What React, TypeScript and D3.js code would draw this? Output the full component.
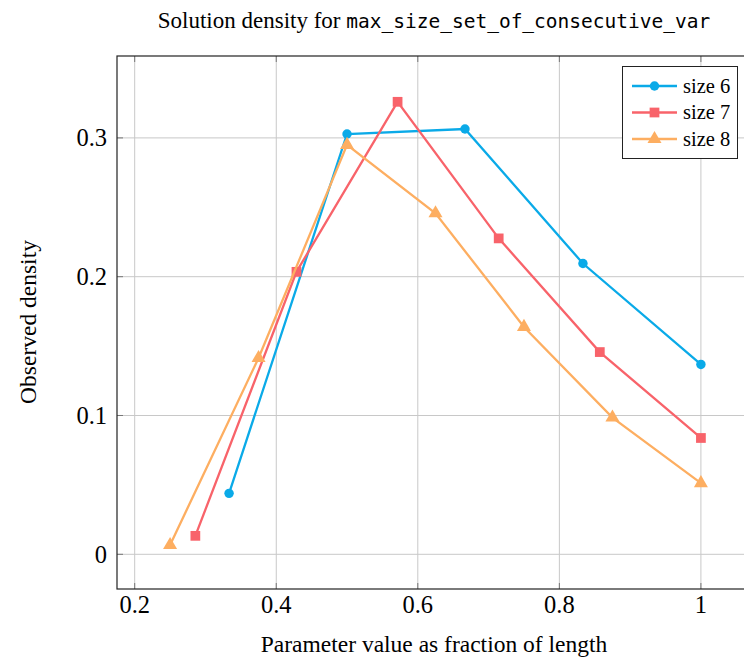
import React, { useEffect, useRef } from "react";
import * as d3 from "d3";

const X6 = [2 / 6, 3 / 6, 4 / 6, 5 / 6, 1];
const Y6 = [0.0439, 0.3028, 0.3064, 0.2095, 0.1368];
const X7 = [2 / 7, 3 / 7, 4 / 7, 5 / 7, 6 / 7, 1];
const Y7 = [0.0133, 0.2035, 0.326, 0.2276, 0.1457, 0.0838];
const X8 = [2 / 8, 3 / 8, 4 / 8, 5 / 8, 6 / 8, 7 / 8, 1];
const Y8 = [0.0067, 0.1414, 0.295, 0.2457, 0.1638, 0.0985, 0.0513];

const SERIES_NAMES = ["size 6", "size 7", "size 8"];
const X_TICKS = [0.2, 0.4, 0.6, 0.8, 1];
const Y_TICKS = [0, 0.1, 0.2, 0.3];

const W = 744;
const H = 662;
const MARGIN = { LEFT: 117, TOP: 56, RIGHT: 754, BOTTOM: 589 };
const COLORS = ["#0aaae8", "#f8636a", "#fdae61"];
const SERIF = "'Liberation Serif', 'Times New Roman', serif";

export default function App() {
  const ref = useRef<SVGSVGElement>(null);

  useEffect(() => {
    const svg = d3.select(ref.current);
    svg.selectAll("*").remove();

    const x = d3.scaleLinear().domain([0.175, 1.075]).range([MARGIN.LEFT, MARGIN.RIGHT]);
    const y = d3.scaleLinear().domain([-0.025, 0.359]).range([MARGIN.BOTTOM, MARGIN.TOP]);

    const series = [
      { name: SERIES_NAMES[0], pts: X6.map((v, i) => [v, Y6[i]]), shape: d3.symbolCircle, size: 70 },
      { name: SERIES_NAMES[1], pts: X7.map((v, i) => [v, Y7[i]]), shape: d3.symbolSquare, size: 95 },
      { name: SERIES_NAMES[2], pts: X8.map((v, i) => [v, Y8[i]]), shape: d3.symbolTriangle, size: 85 },
    ];

    // grid
    const grid = svg.append("g").attr("stroke", "#c8c8c8").attr("stroke-width", 1);
    X_TICKS.forEach((t) => {
      grid.append("line").attr("x1", x(t)).attr("x2", x(t)).attr("y1", MARGIN.TOP).attr("y2", MARGIN.BOTTOM);
    });
    Y_TICKS.forEach((t) => {
      grid.append("line").attr("x1", MARGIN.LEFT).attr("x2", MARGIN.RIGHT).attr("y1", y(t)).attr("y2", y(t));
    });

    // inward ticks
    const ticks = svg.append("g").attr("stroke", "#777").attr("stroke-width", 1);
    X_TICKS.forEach((t) => {
      ticks.append("line").attr("x1", x(t)).attr("x2", x(t)).attr("y1", MARGIN.BOTTOM).attr("y2", MARGIN.BOTTOM - 6);
      ticks.append("line").attr("x1", x(t)).attr("x2", x(t)).attr("y1", MARGIN.TOP).attr("y2", MARGIN.TOP + 6);
    });
    Y_TICKS.forEach((t) => {
      ticks.append("line").attr("x1", MARGIN.LEFT).attr("x2", MARGIN.LEFT + 6).attr("y1", y(t)).attr("y2", y(t));
    });

    // frame
    svg
      .append("rect")
      .attr("x", MARGIN.LEFT)
      .attr("y", MARGIN.TOP)
      .attr("width", MARGIN.RIGHT - MARGIN.LEFT)
      .attr("height", MARGIN.BOTTOM - MARGIN.TOP)
      .attr("fill", "none")
      .attr("stroke", "#222")
      .attr("stroke-width", 1.2);

    // tick labels
    X_TICKS.forEach((t) => {
      svg
        .append("text")
        .attr("x", x(t))
        .attr("y", 613)
        .attr("text-anchor", "middle")
        .attr("font-family", SERIF)
        .attr("font-size", 24.5)
        .text(d3.format("~g")(t));
    });
    Y_TICKS.forEach((t) => {
      svg
        .append("text")
        .attr("x", 107)
        .attr("y", y(t))
        .attr("dy", "0.35em")
        .attr("text-anchor", "end")
        .attr("font-family", SERIF)
        .attr("font-size", 24.5)
        .text(d3.format("~g")(t));
    });

    // lines and markers
    const line = d3
      .line<number[]>()
      .x((d) => x(d[0]))
      .y((d) => y(d[1]));
    series.forEach((s, i) => {
      svg
        .append("path")
        .attr("d", line(s.pts))
        .attr("fill", "none")
        .attr("stroke", COLORS[i])
        .attr("stroke-width", 2.3);
      svg
        .selectAll(null)
        .data(s.pts)
        .enter()
        .append("path")
        .attr("d", d3.symbol().type(s.shape).size(s.size)())
        .attr("transform", (d) => `translate(${x(d[0])},${y(d[1])})`)
        .attr("fill", COLORS[i]);
    });

    // legend
    const lg = svg.append("g");
    lg.append("rect")
      .attr("x", 622.5)
      .attr("y", 66.5)
      .attr("width", 115)
      .attr("height", 92)
      .attr("fill", "white")
      .attr("stroke", "#222")
      .attr("stroke-width", 1);
    series.forEach((s, i) => {
      const ly = 86 + i * 26.5;
      lg.append("line")
        .attr("x1", 632)
        .attr("x2", 677)
        .attr("y1", ly)
        .attr("y2", ly)
        .attr("stroke", COLORS[i])
        .attr("stroke-width", 2.3);
      lg.append("path")
        .attr("d", d3.symbol().type(s.shape).size(s.size)())
        .attr("transform", `translate(654.5,${ly})`)
        .attr("fill", COLORS[i]);
      lg.append("text")
        .attr("x", 683)
        .attr("y", ly)
        .attr("dy", "0.33em")
        .attr("font-family", SERIF)
        .attr("font-size", 20.5)
        .text(s.name);
    });

    // axis labels
    svg
      .append("text")
      .attr("x", 434)
      .attr("y", 652)
      .attr("text-anchor", "middle")
      .attr("font-family", SERIF)
      .attr("font-size", 23.5)
      .text("Parameter value as fraction of length");
    svg
      .append("text")
      .attr("transform", `translate(28,322) rotate(-90)`)
      .attr("text-anchor", "middle")
      .attr("dy", "0.35em")
      .attr("font-family", SERIF)
      .attr("font-size", 23.5)
      .text("Observed density");

    // title
    const title = svg
      .append("text")
      .attr("x", 434)
      .attr("y", 28)
      .attr("text-anchor", "middle")
      .attr("font-family", SERIF)
      .attr("font-size", 23);
    title.append("tspan").text("Solution density for ");
    title
      .append("tspan")
      .attr("font-family", "'DejaVu Sans Mono', 'Liberation Mono', monospace")
      .attr("font-size", 19.5)
      .text("max_size_set_of_consecutive_var");
  }, []);

  return (
    <svg
      ref={ref}
      width={W}
      height={H}
      style={{ position: "absolute", left: 0, top: 0, background: "white" }}
    />
  );
}
